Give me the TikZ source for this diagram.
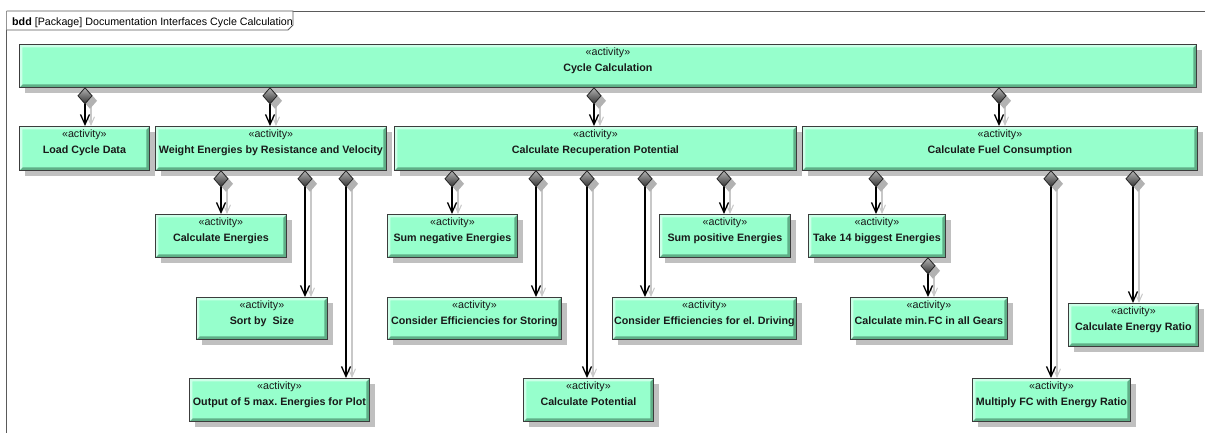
\documentclass[tikz,border=0pt]{standalone}
\usepackage{fontspec}
\setmainfont{Liberation Sans}
\usetikzlibrary{arrows.meta,shadows,calc}
\frenchspacing

\definecolor{mint}{RGB}{150,255,204}
\definecolor{mintlight}{RGB}{205,255,232}
\definecolor{mintdark}{RGB}{95,175,135}
\definecolor{edgegray}{RGB}{60,60,60}
\definecolor{boxshade}{RGB}{192,192,192}
\definecolor{linkshade}{RGB}{200,200,200}
\definecolor{framegray}{RGB}{90,90,90}

\tikzset{
  x=1pt, y=-1pt,
  actbox/.style={draw=edgegray, line width=0.8pt, fill=mint, inner sep=0pt, anchor=north west,
    drop shadow={shadow xshift=6pt, shadow yshift=-6pt, fill=boxshade, opacity=1},
    path picture={
      \fill[mintdark] (path picture bounding box.north east) -- (path picture bounding box.south east)
        -- (path picture bounding box.south west) -- ++(3pt,3pt)
        -- ($(path picture bounding box.south east)+(-3pt,3pt)$)
        -- ($(path picture bounding box.north east)+(-3pt,-3pt)$) -- cycle;
      \fill[mintlight] (path picture bounding box.north east) -- (path picture bounding box.north west)
        -- (path picture bounding box.south west) -- ++(3pt,3pt)
        -- ($(path picture bounding box.north west)+(3pt,-3pt)$)
        -- ($(path picture bounding box.north east)+(-3pt,-3pt)$) -- cycle;
    }},
  stereo/.style={font=\fontsize{10.7pt}{13pt}\selectfont, inner sep=0pt, anchor=base, text=black!90},
  actname/.style={font=\fontsize{10.7pt}{13pt}\selectfont\bfseries, inner sep=0pt, anchor=base, text=black!90},
  link/.style={draw=black, line width=1.5pt, -{Straight Barb[length=10pt,width=9pt,line width=1.3pt]}},
  linkshadow/.style={draw=linkshade, line width=1.3pt, -{Straight Barb[length=8pt,width=7pt,line width=1pt]}},
  diam/.style={draw=black!85, line width=0.8pt, top color=black!30, bottom color=black!80},
  diashadow/.style={fill=black!30},
  framelabel/.style={font=\fontsize{10.7pt}{13pt}\selectfont, inner sep=0pt, anchor=base west}
}

% box: name, x1, y1, x2, y2, title
\newcommand\activitybox[6]{%
  \node[actbox, minimum width={(#4-#2)*1pt}, minimum height={(#5-#3)*1pt}] (#1) at (#2,#3) {};
  \node[stereo] (#1-s) at ([yshift=-11.5pt]#1.north) {«activity»};
  \node[actname] (#1-n) at ([yshift=-27.5pt]#1.north) {#6};
}

% composition link: parent, child, x position
\newcommand\complink[3]{%
  \coordinate (cx) at (#3,0);
  \coordinate (s) at (#1.south -| cx);
  \coordinate (t) at (#2.north -| cx);
  \draw[linkshadow] ($(s)+(6pt,-14pt)$) -- ($(t)+(6pt,0)$);
  \fill[diashadow] ($(s)+(5pt,-5pt)$) -- ++(7pt,-8pt) -- ++(-7pt,-8pt) -- ++(-7pt,8pt) -- cycle;
  \draw[link] ($(s)+(0,-16pt)$) -- (t);
  \draw[diam] (s) -- ++(7pt,-8pt) -- ++(-7pt,-8pt) -- ++(-7pt,8pt) -- cycle;
}

\begin{document}
\begin{tikzpicture}
\useasboundingbox (0,0) rectangle (1205,432);
\clip (0,0) rectangle (1205,432);
\fill[white] (0,0) rectangle (1205,432);

% diagram frame and its header tab
\draw[framegray, line width=0.8pt] (6.5,450) -- (6.5,11) -- (1220,11);
\draw[framegray, line width=0.8pt, fill=white] (6.5,11) -- (293,11) -- (293,25) -- (288,30) -- (6.5,30);
\node[framelabel] (frametitle) at (12,25) {\textbf{bdd} [Package] Documentation Interfaces Cycle Calculation};

% blocks
\activitybox{cycle}{19}{44}{1196}{87}{Cycle Calculation}
\activitybox{load}{19}{126}{149}{170}{Load Cycle Data}
\activitybox{weight}{155}{126}{386}{170}{Weight Energies by Resistance and Velocity}
\activitybox{recup}{394}{126}{796}{170}{Calculate Recuperation Potential}
\activitybox{fuel}{802}{126}{1197}{170}{Calculate Fuel Consumption}

\activitybox{calcen}{155}{214}{286}{257}{Calculate Energies}
\activitybox{sort}{196}{297}{327}{339}{Sort by\ \ Size}
\activitybox{output}{189}{378}{369}{421}{Output of 5 max. Energies for Plot}

\activitybox{sumneg}{387}{214}{517}{257}{Sum negative Energies}
\activitybox{storing}{387}{297}{561}{339}{Consider Efficiencies for Storing}
\activitybox{potential}{523}{378}{653}{421}{Calculate Potential}
\activitybox{eldrive}{612}{297}{796}{339}{Consider Efficiencies for el. Driving}
\activitybox{sumpos}{659}{214}{790}{257}{Sum positive Energies}

\activitybox{take}{808}{214}{945}{257}{Take 14 biggest Energies}
\activitybox{minfc}{850}{297}{1007}{339}{Calculate min.\kern1pt FC in all Gears}
\activitybox{ratio}{1068}{303}{1198}{346}{Calculate Energy Ratio}
\activitybox{multiply}{972}{378}{1130}{421}{Multiply FC with Energy Ratio}

% composition links
\complink{cycle}{load}{85}
\complink{cycle}{weight}{270}
\complink{cycle}{recup}{594}
\complink{cycle}{fuel}{999}

\complink{weight}{calcen}{221}
\complink{weight}{sort}{305}
\complink{weight}{output}{346}

\complink{recup}{sumneg}{452}
\complink{recup}{storing}{536}
\complink{recup}{potential}{587}
\complink{recup}{eldrive}{645}
\complink{recup}{sumpos}{724}

\complink{fuel}{take}{876}
\complink{fuel}{multiply}{1051}
\complink{fuel}{ratio}{1133}

\complink{take}{minfc}{928}
\end{tikzpicture}
\end{document}
